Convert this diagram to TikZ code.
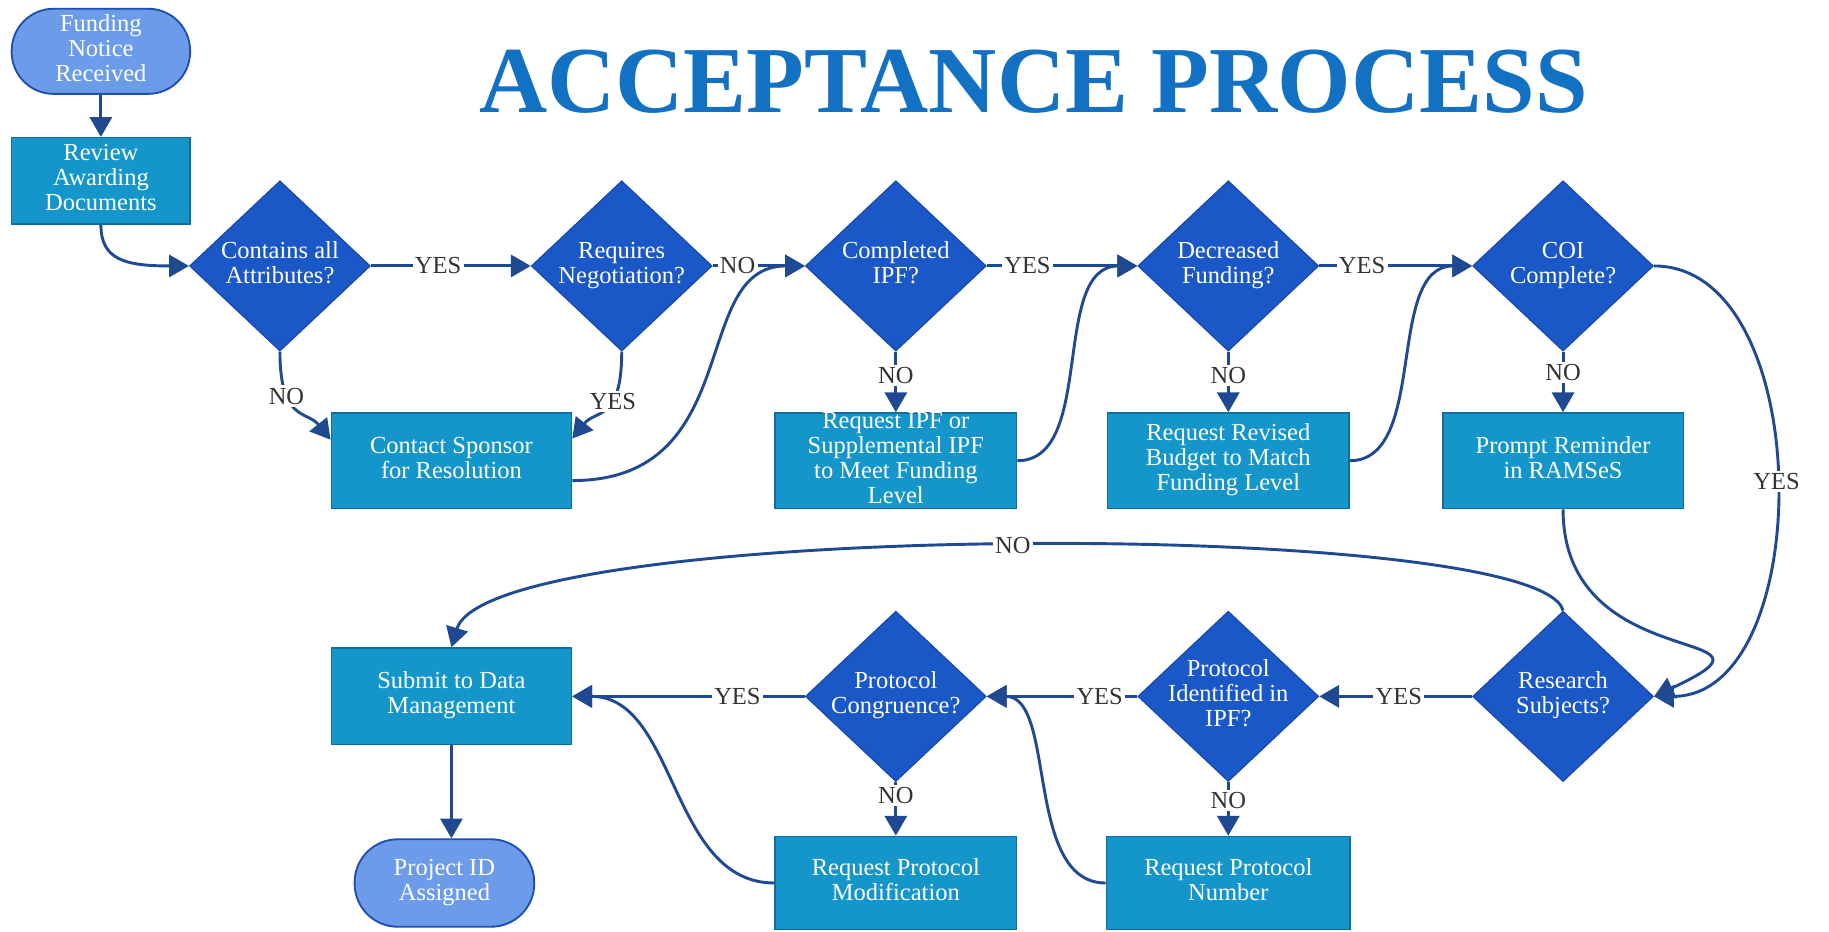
\documentclass[tikz,border=0pt]{standalone}
\usepackage{fontspec}
\setmainfont{Liberation Serif}
\usetikzlibrary{arrows.meta,shapes.geometric}
\definecolor{boxc}{HTML}{1596CA}
\definecolor{boxb}{HTML}{0E6E9E}
\definecolor{diac}{HTML}{1A57C7}
\definecolor{diab}{HTML}{1848A8}
\definecolor{termc}{HTML}{6C9CE9}
\definecolor{termb}{HTML}{1E4FB0}
\definecolor{arrc}{HTML}{1F4A92}
\definecolor{titlec}{HTML}{1271C2}
\definecolor{lblc}{HTML}{333333}
\newcommand{\ctx}[1]{\smash{\makebox[0pt]{\raisebox{-5.2pt}{\begin{tabular}{@{}c@{}}#1\end{tabular}}}}}
\tikzset{
 base/.style={inner sep=0pt, font=\fontsize{21}{21.5}\selectfont, text=white},
 proc/.style={base, rectangle, draw=boxb, line width=1.2pt, fill=boxc, minimum width=206pt, minimum height=82pt},
 dec/.style={base, diamond, draw=diab, line width=1pt, fill=diac, minimum width=155pt, minimum height=146pt},
 term/.style={base, rectangle, rounded corners=36pt, draw=termb, line width=1.6pt, fill=termc, minimum width=153pt, minimum height=73pt},
 arr/.style={draw=arrc, line width=2.5pt, -{Triangle[length=17pt,width=19pt]}},
 lbl/.style={fill=white, inner sep=2pt, font=\fontsize{21}{21}\selectfont, text=lblc},
 ttl/.style={inner sep=0pt, font=\fontsize{81}{81}\selectfont\bfseries, text=titlec},
}
\begin{document}
\begin{tikzpicture}[x=1pt,y=-1pt]
\useasboundingbox (0,0) rectangle (1568,799);
\node[ttl] (title) at (886,70) {ACCEPTANCE PROCESS};
% top row
\node[term] (start) at (86.5,44) {\ctx{Funding\\Notice\\Received}};
\node[proc, minimum width=153pt, minimum height=74pt] (review) at (86.5,155) {\ctx{Review\\Awarding\\Documents}};
\node[dec] (d1) at (240,228) {\ctx{Contains all\\Attributes?}};
\node[dec] (d2) at (533,228) {\ctx{Requires\\Negotiation?}};
\node[dec] (d3) at (768,228) {\ctx{Completed\\IPF?}};
\node[dec] (d4) at (1053,228) {\ctx{Decreased\\Funding?}};
\node[dec] (d5) at (1340,228) {\ctx{COI\\Complete?}};
\node[proc] (contact) at (387,395) {\ctx{Contact Sponsor\\for Resolution}};
\node[proc, minimum width=207pt] (ipf) at (768,395) {\ctx{Request IPF or\\Supplemental IPF\\to Meet Funding\\Level}};
\node[proc, minimum width=207pt] (budget) at (1053,395) {\ctx{Request Revised\\Budget to Match\\Funding Level}};
\node[proc] (prompt) at (1340,395) {\ctx{Prompt Reminder\\in RAMSeS}};
% bottom row
\node[dec] (d6) at (1340,597) {\ctx{Research\\Subjects?}};
\node[dec] (d7) at (1053,597) {\ctx{Protocol\\Identified in\\IPF?}};
\node[dec] (d8) at (768,597) {\ctx{Protocol\\Congruence?}};
\node[proc, minimum height=83pt] (submit) at (387,597) {\ctx{Submit to Data\\Management}};
\node[proc, minimum width=207pt, minimum height=80pt] (pmod) at (768,757) {\ctx{Request Protocol\\Modification}};
\node[proc, minimum width=209pt, minimum height=80pt] (pnum) at (1053,757) {\ctx{Request Protocol\\Number}};
\node[term, minimum width=154pt, minimum height=75pt, rounded corners=37pt] (pid) at (381,757) {\ctx{Project ID\\Assigned}};
% connectors
\draw[arr] (start) -- (review);
\draw[arr] (review.south) .. controls +(0,30) and +(-55,0) .. (d1.west);
\draw[arr] (d1.east) -- node[lbl, pos=0.42] {YES} (d2.west);
\draw[arr] (d2.east) -- node[lbl, pos=0.27] {NO} (d3.west);
\draw[arr] (d3.east) -- node[lbl, pos=0.27] {YES} (d4.west);
\draw[arr] (d4.east) -- node[lbl, pos=0.28] {YES} (d5.west);
\draw[arr] (d1.south) .. controls +(0,60) and +(-20,-25) .. node[lbl, pos=0.3] {NO} ([yshift=18pt]contact.west);
\draw[arr] (d2.south) .. controls +(0,60) and +(20,-25) .. node[lbl, pos=0.36] {YES} ([yshift=19pt]contact.east);
\draw[arr] ([yshift=-17pt]contact.east) .. controls +(150,0) and +(-100,0) .. (d3.west);
\draw[arr] (d3.south) -- node[lbl, pos=0.4] {NO} (ipf.north);
\draw[arr] (ipf.east) .. controls +(68,0) and +(-75,0) .. (d4.west);
\draw[arr] (d4.south) -- node[lbl, pos=0.4] {NO} (budget.north);
\draw[arr] (budget.east) .. controls +(68,0) and +(-75,0) .. (d5.west);
\draw[arr] (d5.south) -- node[lbl, pos=0.35] {NO} (prompt.north);
\draw[arr] (d5.east) .. controls +(140,0) and +(140,0) .. node[lbl, pos=0.5] {YES} (d6.east);
\draw[arr] (prompt.south) to[out=-90, in=25, looseness=2.1] (d6.east);
\draw[arr] (d6.west) -- node[lbl, pos=0.48] {YES} (d7.east);
\draw[arr] (d7.south) -- node[lbl, pos=0.34] {NO} (pnum.north);
\draw[arr] (d7.west) -- node[lbl, pos=0.25] {YES} (d8.east);
\draw[arr] (pnum.west) .. controls +(-70,0) and +(60,0) .. (d8.east);
\draw[arr] (d8.west) -- node[lbl, pos=0.29] {YES} (submit.east);
\draw[arr] (d8.south) -- node[lbl, pos=0.25] {NO} (pmod.north);
\draw[arr] (pmod.west) .. controls +(-90,0) and +(90,0) .. (submit.east);
\draw[arr] (submit.south) -- (submit.south |- pid.north);
\draw[arr] (d6.north) .. controls +(-20,-80) and +(33,-110) .. node[lbl, pos=0.5] {NO} (submit.north);
\end{tikzpicture}
\end{document}
